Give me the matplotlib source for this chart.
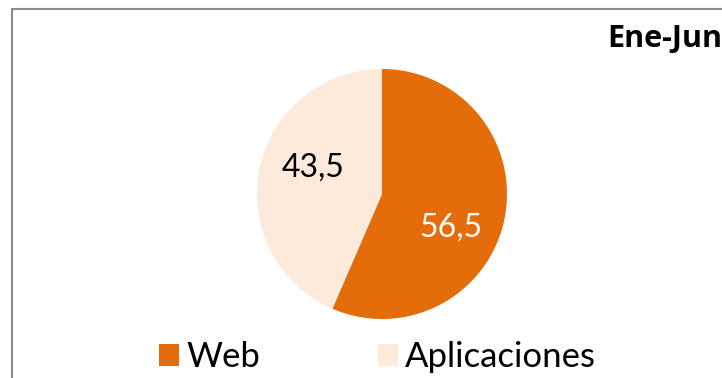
import numpy as np
import matplotlib.pyplot as plt
from matplotlib.patches import Rectangle

plt.rcParams["font.family"] = ["Lato", "DejaVu Sans"]

categories = ["Web", "Aplicaciones"]
shares = [56.5, 43.5]
colors = ["#E46C0A", "#FDEADA"]
label_colors = ["white", "black"]
period = "Ene-Jun"

fig = plt.figure(figsize=(7.22, 3.78), dpi=100)

# outer chart frame, cut by the right and bottom edges
fig.patches.append(Rectangle((12 / 722, -0.05), 1.0, 1 - 9 / 378 + 0.05,
                             transform=fig.transFigure, fill=False,
                             edgecolor="#8C8C8C", linewidth=1.5))

ax = fig.add_axes([(382 - 125) / 722, (184 - 125) / 378, 250 / 722, 250 / 378])
wedges, texts, autotexts = ax.pie(
    shares, colors=colors, startangle=90, counterclock=False,
    autopct=lambda p: f"{p:.1f}".replace(".", ","), pctdistance=0.6,
    textprops={"fontsize": 23},
)
# value labels sit a little clockwise of each slice's middle
for w, t, c in zip(wedges, autotexts, label_colors):
    mid = np.deg2rad((w.theta1 + w.theta2) / 2 - 12)
    t.set_position((0.6 * np.cos(mid), 0.6 * np.sin(mid) - 0.03))
    t.set_color(c)
ax.set_xlim(-1, 1)
ax.set_ylim(-1, 1)
ax.set_aspect("equal")

fig.text(607 / 722, 1 - 39 / 378, period, fontsize=22, fontweight="bold",
         family=["Open Sans", "DejaVu Sans"], va="center", ha="left")

fig.legend(wedges, categories, loc="center", bbox_to_anchor=(0.523, 1 - 357 / 378),
           ncol=2, frameon=False, fontsize=25, handlelength=0.58, handleheight=0.58,
           handletextpad=0.2, columnspacing=3.4)

fig.savefig("out.png", dpi=100)
